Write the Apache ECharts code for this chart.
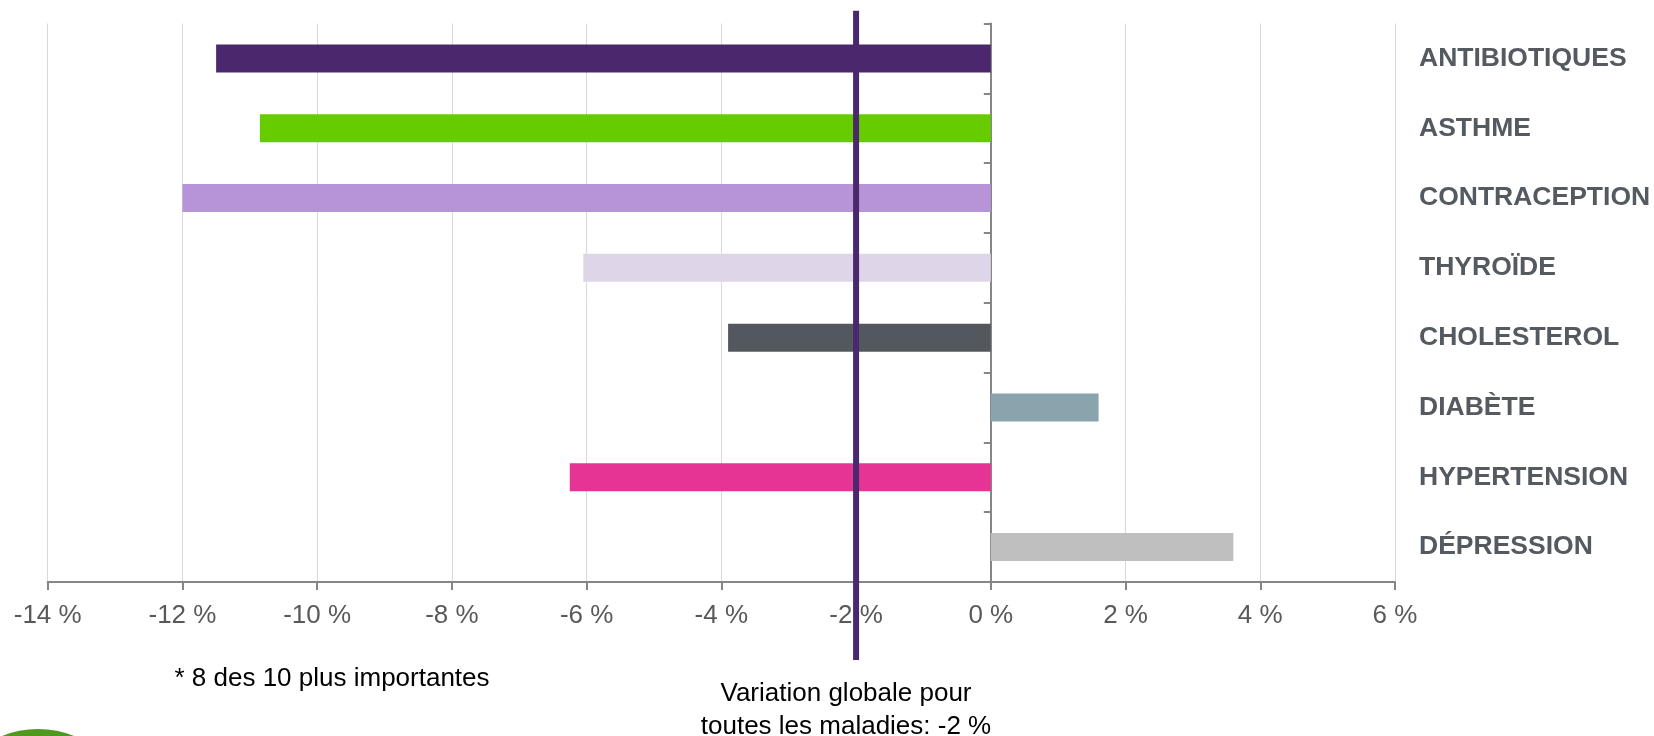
<!DOCTYPE html>
<html>
<head>
<meta charset="utf-8">
<script src="https://cdn.jsdelivr.net/npm/echarts@6/dist/echarts.min.js"></script>
<style>
html,body{margin:0;padding:0;background:#fff;}
#chart{width:1654px;height:736px;}
</style>
</head>
<body>
<div id="chart"></div>
<script>
const categories = ['ANTIBIOTIQUES', 'ASTHME', 'CONTRACEPTION', 'THYROÏDE', 'CHOLESTEROL', 'DIABÈTE', 'HYPERTENSION', 'DÉPRESSION'];
const values = [-11.5, -10.85, -12, -6.05, -3.9, 1.6, -6.25, 3.6];
const barColors = ['#4b286d', '#66cc00', '#b794d8', '#ded6e8', '#53585f', '#8aa4ad', '#e63495', '#bfbfbf'];
const xMin = -14, xMax = 6, xStep = 2;
const globalVariation = -2;
const footnote = '* 8 des 10 plus importantes';
const variationText = 'Variation globale pour\ntoutes les maladies: -2 %';

const FONT = '"Liberation Sans", Arial, sans-serif';
const chart = echarts.init(document.getElementById('chart'));

const gridLeft = 47.7, gridRight = 259;

chart.setOption({
  animation: false,
  backgroundColor: '#ffffff',
  grid: [
    { left: gridLeft, right: gridRight, top: 23.5, bottom: 154 },
    { left: gridLeft, right: gridRight, top: 10.7, bottom: 76 }
  ],
  xAxis: [
    {
      type: 'value', gridIndex: 0, min: xMin, max: xMax, interval: xStep,
      axisLine: { show: true, onZero: false, lineStyle: { color: '#868686', width: 2 } },
      axisTick: { show: true, length: 8, lineStyle: { color: '#868686', width: 2 } },
      axisLabel: { formatter: v => v + ' %', fontSize: 26, color: '#595959', fontFamily: FONT, margin: 21 },
      splitLine: { show: true, lineStyle: { color: '#d9d9d9', width: 1 } }
    },
    { type: 'value', gridIndex: 1, min: xMin, max: xMax, show: false }
  ],
  yAxis: [
    {
      type: 'category', gridIndex: 0, data: categories, inverse: true,
      axisLine: { show: true, onZero: true, lineStyle: { color: '#868686', width: 2 } },
      axisTick: { show: true, length: 7, lineStyle: { color: '#868686', width: 2 } },
      axisLabel: { show: false },
      splitLine: { show: false }
    },
    {
      type: 'category', gridIndex: 0, data: categories, inverse: true, position: 'right',
      axisLine: { show: false }, axisTick: { show: false }, splitLine: { show: false },
      axisLabel: { fontSize: 26.5, fontWeight: 'bold', color: '#555a60', fontFamily: FONT, margin: 24, align: 'left' }
    },
    { type: 'value', gridIndex: 1, min: 0, max: 1, show: false }
  ],
  series: [
    {
      type: 'bar', xAxisIndex: 0, yAxisIndex: 0, barWidth: 28,
      data: values.map((v, i) => ({ value: v, itemStyle: { color: barColors[i] } })),
      z: 2
    },
    {
      type: 'line', xAxisIndex: 1, yAxisIndex: 2, symbol: 'none', silent: true,
      data: [[globalVariation, 0], [globalVariation, 1]],
      lineStyle: { color: '#4b286d', width: 6 },
      z: 10
    }
  ],
  graphic: [
    {
      type: 'text', x: 332, y: 679,
      style: { text: footnote, font: '26px ' + FONT, fill: '#000000', textAlign: 'center', textVerticalAlign: 'middle' }
    },
    {
      type: 'text', x: 846, y: 710,
      style: { text: variationText, font: '26px ' + FONT, fill: '#000000', textAlign: 'center', textVerticalAlign: 'middle', lineHeight: 33 }
    },
    {
      type: 'circle', shape: { cx: 38, cy: 825, r: 96 },
      style: { fill: '#4f9a1e' }, z: -1
    }
  ]
});
</script>
</body>
</html>
